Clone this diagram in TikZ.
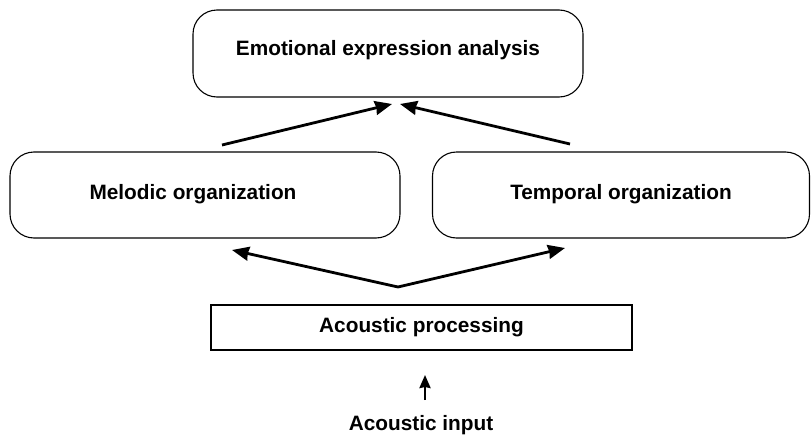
\documentclass[tikz,border=0pt]{standalone}
\usepackage{fontspec}
\setmainfont{Liberation Sans}
\usetikzlibrary{arrows.meta,calc}

\begin{document}
\begin{tikzpicture}[x=1pt,y=-1pt,
    font=\fontsize{20.8}{24}\selectfont\bfseries,
    roundbox/.style={draw, line width=1.1pt, rounded corners=24pt, inner sep=0pt},
    plainbox/.style={draw, line width=1.3pt, inner sep=0pt, minimum width=421pt, minimum height=45pt},
    arr/.style={line width=2.8pt, -{Stealth[length=17pt,width=14pt,inset=1pt]}},
    smallarr/.style={line width=2.4pt, -{Stealth[length=13pt,width=11pt,inset=1pt]}}]
    \useasboundingbox (0,0) rectangle (811,439);
    \node[roundbox, minimum width=390pt, text height=45pt, text depth=42pt] (emotion) at (388,53.5) {Emotional expression analysis};
    \node[roundbox, minimum width=390pt, text height=47pt, text depth=39pt] (melodic) at (205,195) {Melodic organization\hspace*{24pt}};
    \node[roundbox, minimum width=377pt, text height=47pt, text depth=39pt] (temporal) at (621,195) {Temporal organization};
    \node[plainbox] (acoustic) at (421.5,327.5) {Acoustic processing};
    \node (input) at (421,425) {Acoustic input};
    % free ends of the connectors
    \coordinate (fork) at (398,287);
    \coordinate (melin) at (232,250);
    \coordinate (tempin) at (565,248);
    \coordinate (melout) at (222,145);
    \coordinate (tempout) at (570,144);
    \coordinate (emoleft) at (392,104);
    \coordinate (emoright) at (400,104);
    \coordinate (inbottom) at (425,400);
    \coordinate (intop) at (425,375);
    \draw[arr] (fork) -- (melin);
    \draw[arr] (fork) -- (tempin);
    \draw[arr] (melout) -- (emoleft);
    \draw[arr] (tempout) -- (emoright);
    \draw[smallarr] (inbottom) -- (intop);
\end{tikzpicture}
\end{document}
